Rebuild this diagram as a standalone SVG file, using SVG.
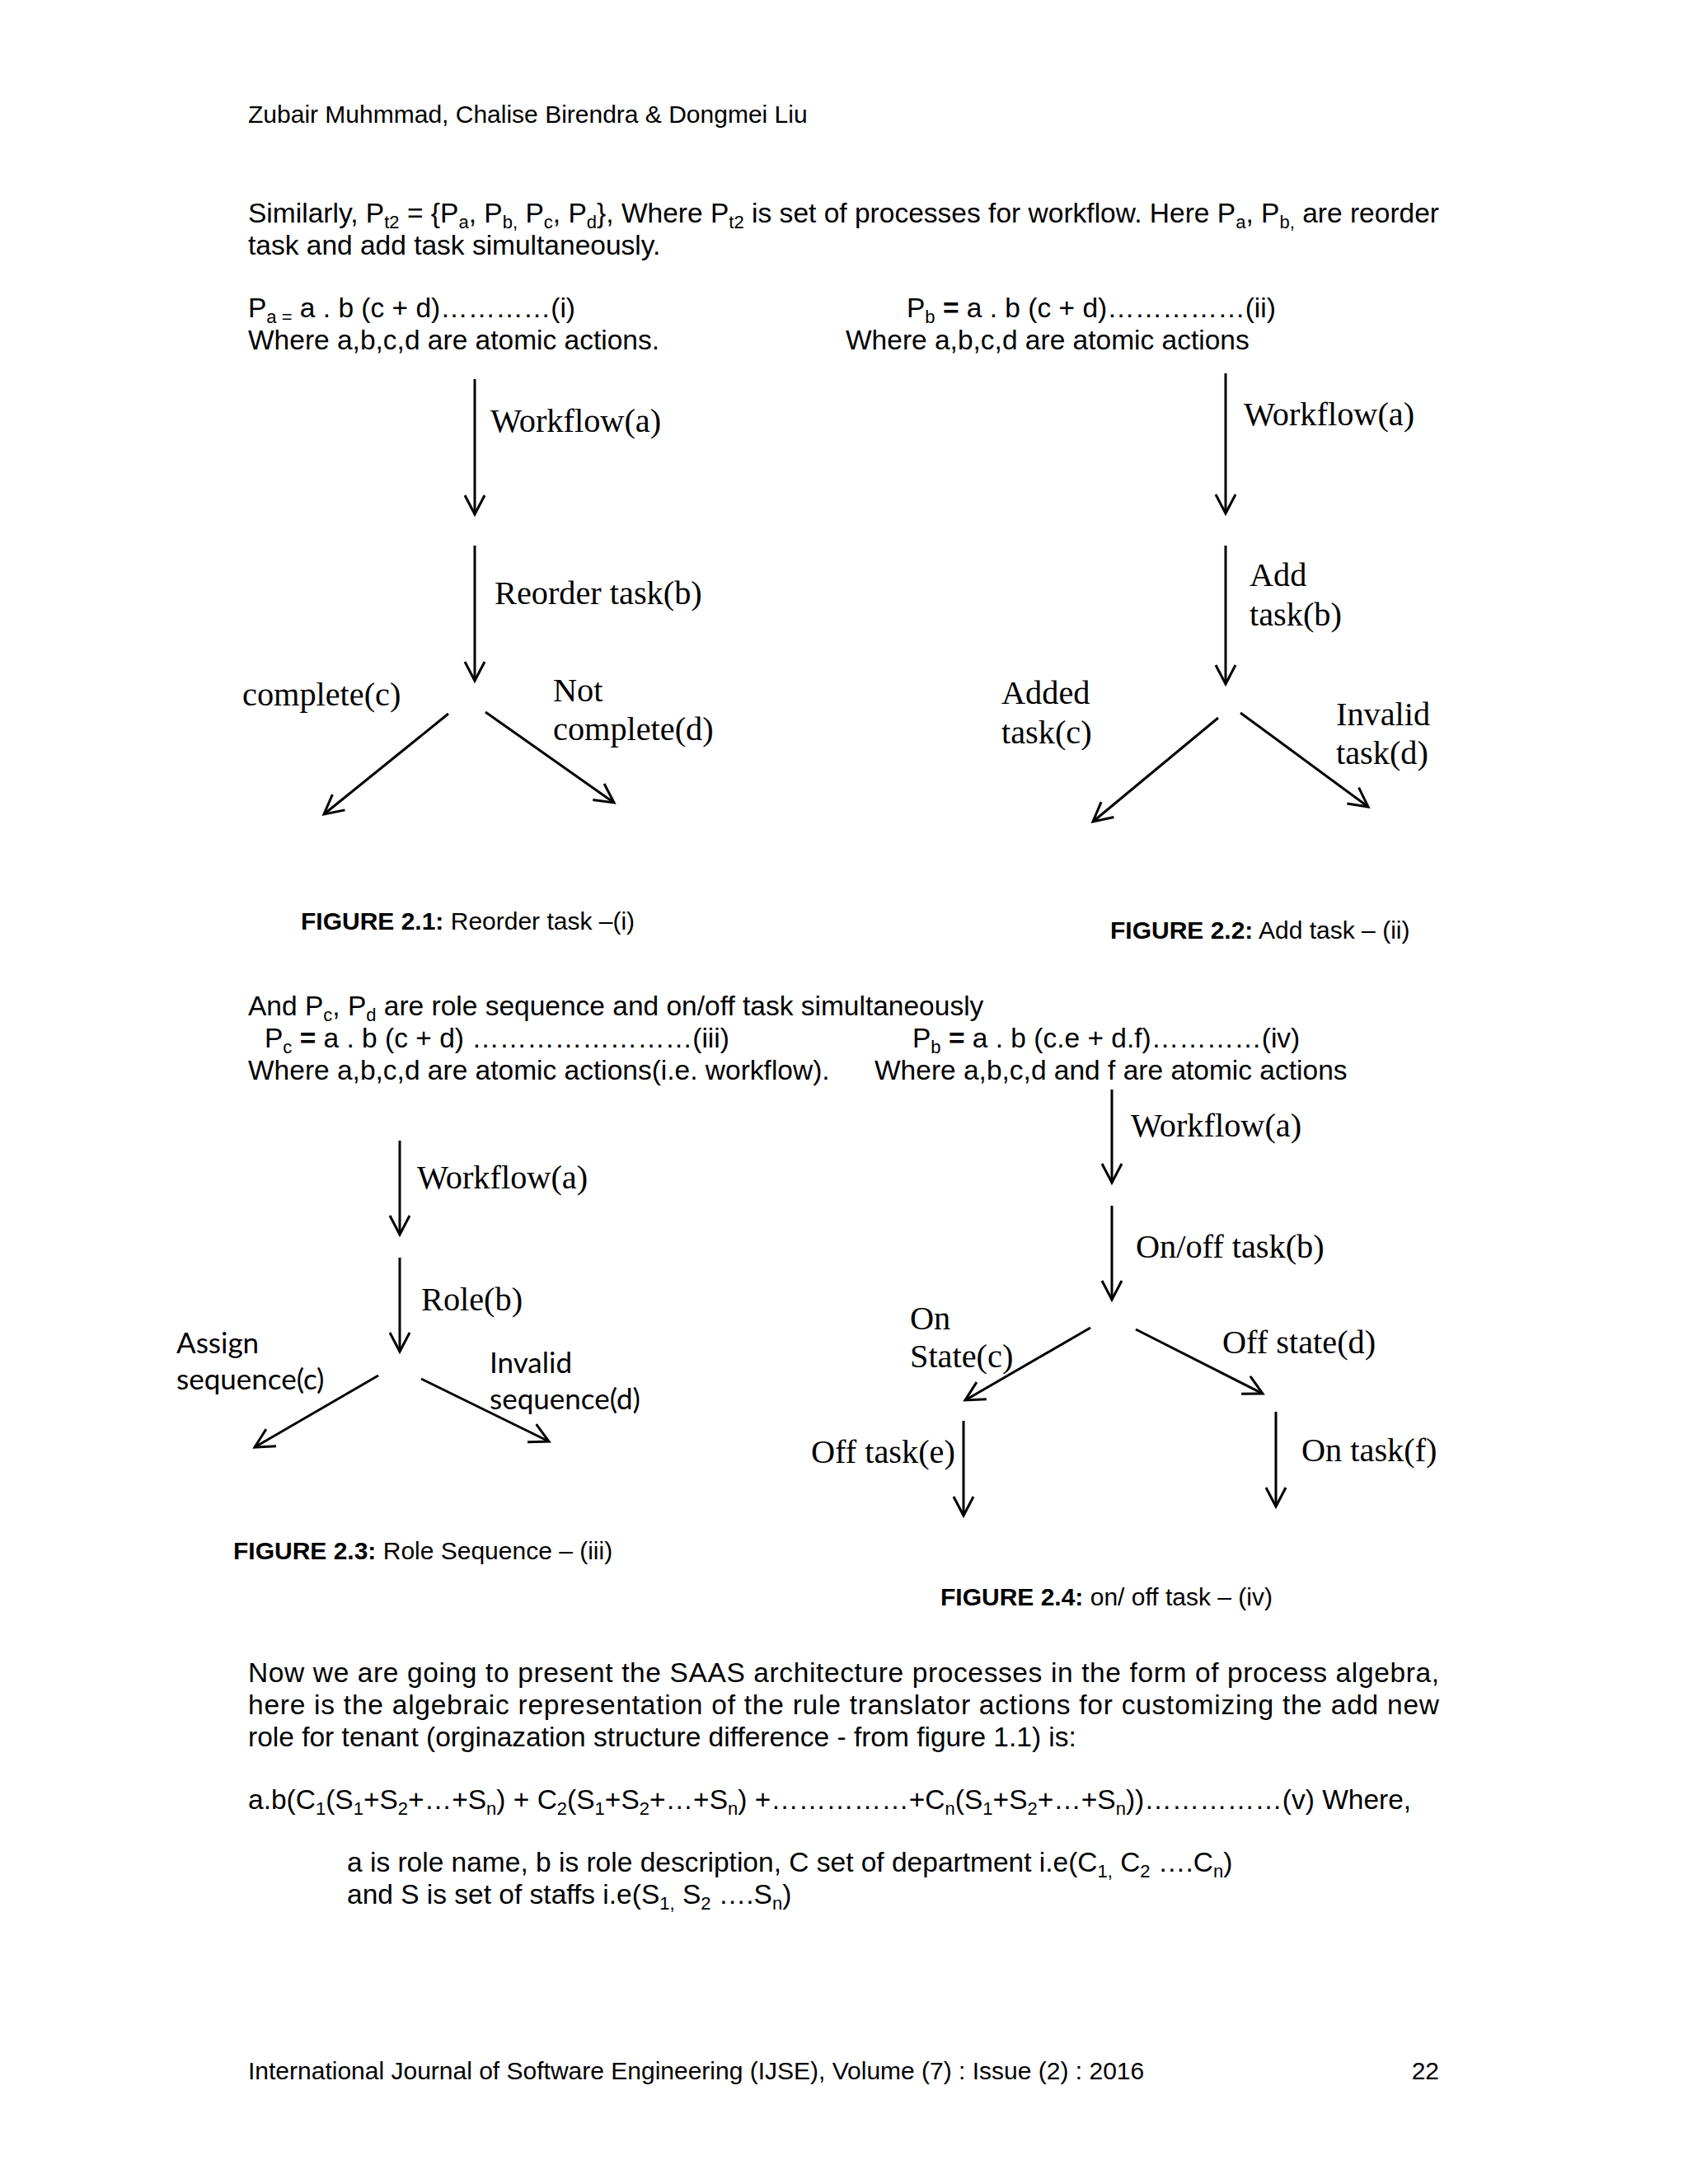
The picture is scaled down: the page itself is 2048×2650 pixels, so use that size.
<svg xmlns="http://www.w3.org/2000/svg" width="2048" height="2650" viewBox="0 0 2048 2650">
<style>
.t{font-family:"Liberation Sans",Arial,sans-serif;font-size:33.5px;fill:#000}
.s{font-family:"Liberation Sans",Arial,sans-serif;font-size:30px;fill:#000}
.b{font-weight:bold}
.sub{font-size:22px}
.tm{font-family:"Liberation Serif","Times New Roman",serif;font-size:40.3px;fill:#000}
.cb{font-family:Lato,"Open Sans",sans-serif;font-size:35px;fill:#000}
.ln{stroke:#000;stroke-width:3;fill:none;marker-end:url(#ah)}
</style>
<defs>
<marker id="ah" viewBox="0 0 26 28" refX="24" refY="14" markerWidth="26" markerHeight="28" markerUnits="userSpaceOnUse" orient="auto" overflow="visible">
<path d="M1,2 L24,14 L1,26" fill="none" stroke="#000" stroke-width="3"/>
</marker>
</defs>
<rect width="2048" height="2650" fill="#fff"/>

<g id="page-text">
<text class="s" x="301" y="149">Zubair Muhmmad, Chalise Birendra &amp; Dongmei Liu</text>
<text class="t" x="301" y="270" textLength="1445" lengthAdjust="spacing">Similarly, P<tspan class="sub" dy="7">t2</tspan><tspan dy="-7"> = {P</tspan><tspan class="sub" dy="7">a</tspan><tspan dy="-7">, P</tspan><tspan class="sub" dy="7">b,</tspan><tspan dy="-7"> P</tspan><tspan class="sub" dy="7">c</tspan><tspan dy="-7">, P</tspan><tspan class="sub" dy="7">d</tspan><tspan dy="-7">}, Where P</tspan><tspan class="sub" dy="7">t2</tspan><tspan dy="-7"> is set of processes for workflow. Here P</tspan><tspan class="sub" dy="7">a</tspan><tspan dy="-7">, P</tspan><tspan class="sub" dy="7">b,</tspan><tspan dy="-7"> are reorder</tspan></text>
<text class="t" x="301" y="309">task and add task simultaneously.</text>
<text class="t" x="301" y="385">P<tspan class="sub" dy="7">a =</tspan><tspan dy="-7"> a . b (c + d)…………(i)</tspan></text>
<text class="t" x="301" y="424">Where a,b,c,d are atomic actions.</text>
<text class="t" x="1100" y="385">P<tspan class="sub" dy="7">b</tspan><tspan dy="-7"> <tspan class="b">=</tspan> a . b (c + d)……………(ii)</tspan></text>
<text class="t" x="1026" y="424">Where a,b,c,d are atomic actions</text>

<text class="t" x="301" y="1232">And P<tspan class="sub" dy="7">c</tspan><tspan dy="-7">, P</tspan><tspan class="sub" dy="7">d</tspan><tspan dy="-7"> are role sequence and on/off task simultaneously</tspan></text>
<text class="t" x="321" y="1271">P<tspan class="sub" dy="7">c</tspan><tspan dy="-7"> <tspan class="b">=</tspan> a . b (c + d) ……………………(iii)</tspan></text>
<text class="t" x="1107" y="1271">P<tspan class="sub" dy="7">b</tspan><tspan dy="-7"> <tspan class="b">=</tspan> a . b (c.e + d.f)…………(iv)</tspan></text>
<text class="t" x="301" y="1310">Where a,b,c,d are atomic actions(i.e. workflow).</text>
<text class="t" x="1061" y="1310">Where a,b,c,d and f are atomic actions</text>

<text class="t" x="301" y="2041" textLength="1445" lengthAdjust="spacing">Now we are going to present the SAAS architecture processes in the form of process algebra,</text>
<text class="t" x="301" y="2080" textLength="1445" lengthAdjust="spacing">here is the algebraic representation of the rule translator actions  for customizing the add new</text>
<text class="t" x="301" y="2119">role for tenant (orginazation structure difference - from figure 1.1) is:</text>
<text class="t" x="301" y="2195">a.b(C<tspan class="sub" dy="7">1</tspan><tspan dy="-7">(S</tspan><tspan class="sub" dy="7">1</tspan><tspan dy="-7">+S</tspan><tspan class="sub" dy="7">2</tspan><tspan dy="-7">+…+S</tspan><tspan class="sub" dy="7">n</tspan><tspan dy="-7">) + C</tspan><tspan class="sub" dy="7">2</tspan><tspan dy="-7">(S</tspan><tspan class="sub" dy="7">1</tspan><tspan dy="-7">+S</tspan><tspan class="sub" dy="7">2</tspan><tspan dy="-7">+…+S</tspan><tspan class="sub" dy="7">n</tspan><tspan dy="-7">)  +……………+C</tspan><tspan class="sub" dy="7">n</tspan><tspan dy="-7">(S</tspan><tspan class="sub" dy="7">1</tspan><tspan dy="-7">+S</tspan><tspan class="sub" dy="7">2</tspan><tspan dy="-7">+…+S</tspan><tspan class="sub" dy="7">n</tspan><tspan dy="-7">))……………(v) Where,</tspan></text>
<text class="t" x="421" y="2271">a is role name, b is role description, C set of department i.e(C<tspan class="sub" dy="7">1,</tspan><tspan dy="-7"> C</tspan><tspan class="sub" dy="7">2</tspan><tspan dy="-7"> ….C</tspan><tspan class="sub" dy="7">n</tspan><tspan dy="-7">)</tspan></text>
<text class="t" x="421" y="2310">and S is set of staffs i.e(S<tspan class="sub" dy="7">1,</tspan><tspan dy="-7"> S</tspan><tspan class="sub" dy="7">2</tspan><tspan dy="-7"> ….S</tspan><tspan class="sub" dy="7">n</tspan><tspan dy="-7">)</tspan></text>

<text class="s" x="301" y="2523">International Journal of Software Engineering (IJSE), Volume (7) : Issue (2) : 2016</text>
<text class="s" x="1746" y="2523" text-anchor="end">22</text>
</g>

<g id="connectors">
<!-- Figure 2.1 -->
<line class="ln" x1="576" y1="460" x2="576" y2="624"/>
<line class="ln" x1="576" y1="662" x2="576" y2="826"/>
<line class="ln" x1="544" y1="866" x2="393" y2="988"/>
<line class="ln" x1="589" y1="864" x2="745" y2="974"/>
<!-- Figure 2.2 -->
<line class="ln" x1="1487" y1="453" x2="1487" y2="623"/>
<line class="ln" x1="1487" y1="662" x2="1487" y2="830"/>
<line class="ln" x1="1478" y1="871" x2="1326" y2="997"/>
<line class="ln" x1="1505" y1="865" x2="1660" y2="979"/>
<!-- Figure 2.3 -->
<line class="ln" x1="485" y1="1384" x2="485" y2="1498"/>
<line class="ln" x1="485" y1="1526" x2="485" y2="1640"/>
<line class="ln" x1="459" y1="1669" x2="309" y2="1756"/>
<line class="ln" x1="511" y1="1673" x2="666" y2="1749"/>
<!-- Figure 2.4 -->
<line class="ln" x1="1349" y1="1322" x2="1349" y2="1435"/>
<line class="ln" x1="1349" y1="1463" x2="1349" y2="1577"/>
<line class="ln" x1="1323" y1="1611" x2="1171" y2="1699"/>
<line class="ln" x1="1378" y1="1613" x2="1532" y2="1691"/>
<line class="ln" x1="1169" y1="1724" x2="1169" y2="1839"/>
<line class="ln" x1="1548" y1="1713" x2="1548" y2="1828"/>
</g>

<g id="fig21">
<g id="f21-a"><text class="tm" x="595" y="524">Workflow(a)</text></g>
<g id="f21-b"><text class="tm" x="600" y="733">Reorder task(b)</text></g>
<g id="f21-c"><text class="tm" x="294" y="856">complete(c)</text></g>
<g id="f21-d"><text class="tm" x="671" y="851">Not</text><text class="tm" x="671" y="898">complete(d)</text></g>
<g id="f21-cap"><text class="s" x="365" y="1128"><tspan class="b">FIGURE 2.1:</tspan> Reorder task –(i)</text></g>
</g>

<g id="fig22">
<g id="f22-a"><text class="tm" x="1509" y="516">Workflow(a)</text></g>
<g id="f22-b"><text class="tm" x="1516" y="711">Add</text><text class="tm" x="1516" y="759">task(b)</text></g>
<g id="f22-c"><text class="tm" x="1215" y="854">Added</text><text class="tm" x="1215" y="902">task(c)</text></g>
<g id="f22-d"><text class="tm" x="1621" y="880">Invalid</text><text class="tm" x="1621" y="927">task(d)</text></g>
<g id="f22-cap"><text class="s" x="1347" y="1139"><tspan class="b">FIGURE 2.2:</tspan> Add task – (ii)</text></g>
</g>

<g id="fig23">
<g id="f23-a"><text class="tm" x="506" y="1442">Workflow(a)</text></g>
<g id="f23-b"><text class="tm" x="511" y="1590">Role(b)</text></g>
<g id="f23-c"><text class="cb" x="214" y="1642">Assign</text><text class="cb" x="214" y="1686">sequence(c)</text></g>
<g id="f23-d"><text class="cb" x="594" y="1666">Invalid</text><text class="cb" x="594" y="1710">sequence(d)</text></g>
<g id="f23-cap"><text class="s" x="283" y="1892"><tspan class="b">FIGURE 2.3:</tspan> Role Sequence – (iii)</text></g>
</g>

<g id="fig24">
<g id="f24-a"><text class="tm" x="1372" y="1379">Workflow(a)</text></g>
<g id="f24-b"><text class="tm" x="1378" y="1526">On/off task(b)</text></g>
<g id="f24-c"><text class="tm" x="1104" y="1613">On</text><text class="tm" x="1104" y="1659">State(c)</text></g>
<g id="f24-d"><text class="tm" x="1483" y="1642">Off state(d)</text></g>
<g id="f24-e"><text class="tm" x="984" y="1775">Off task(e)</text></g>
<g id="f24-f"><text class="tm" x="1579" y="1773">On task(f)</text></g>
<g id="f24-cap"><text class="s" x="1141" y="1948"><tspan class="b">FIGURE 2.4:</tspan> on/ off task – (iv)</text></g>
</g>
</svg>
